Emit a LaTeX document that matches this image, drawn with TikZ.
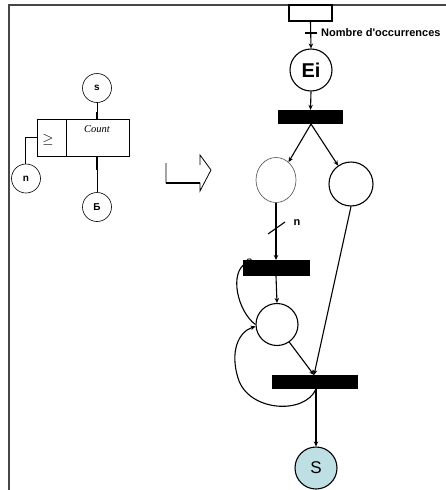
\documentclass[tikz,border=0pt]{standalone}
\usepackage{fontspec}
\setmainfont{Liberation Serif}
\newfontfamily\lsans{Liberation Sans}
\usetikzlibrary{arrows.meta,calc,shapes.geometric}
\definecolor{sblue}{RGB}{190,224,228}
\definecolor{framegray}{RGB}{70,70,70}
\tikzset{
  pn/.style={line width=1.1pt},
  arr/.style={pn,-{Stealth[length=5pt,width=4.5pt]}},
  place/.style={draw,circle,pn,minimum size=42pt,inner sep=0pt},
  bar/.style={fill=black,draw=none,inner sep=0pt},
  smallplace/.style={draw,circle,line width=0.6pt,minimum size=29pt,inner sep=0pt,font=\lsans\bfseries\fontsize{10}{11}\selectfont},
  thin/.style={line width=0.7pt}
}
\begin{document}
\begin{tikzpicture}[x=1pt,y=1pt]
\useasboundingbox (0,0) rectangle (445,-490);
% frame
\draw[line width=2pt,framegray] (9,-491) -- (9,-5) -- (446,-5);

% ---------- left block ----------
\node[smallplace] (s) at (97,-88) {s};
\node[draw,thin,minimum width=92pt,minimum height=37pt,inner sep=0pt] (box) at (83,-137.5) {};
\draw[thin] (66,-119) -- (66,-156);
\node[font=\fontsize{14}{15}\selectfont] (ge) at (48,-140) {$\geq$};
\node[font=\itshape\fontsize{10.5}{11}\selectfont] (cnt) at (97,-129) {Count};
\node[smallplace] (n) at (26,-178.5) {n};
\node[smallplace] (b) at (97,-207) {Б};
\coordinate (sbot) at (97,-112);
\coordinate (bmid) at (97,-170);
\draw[thin] (s.south) -- (sbot);
\draw[line width=2pt] (sbot) -- (box.north -| sbot);
\draw[line width=2pt] (box.south -| bmid) -- (bmid);
\draw[thin] (bmid) -- (b.north);
\coordinate (nk) at (25,-137);
\draw[thin] (box.west |- nk) -- (nk) -- (n.north -| nk);

% hollow bent arrow
\coordinate (a1) at (166,-163);
\coordinate (a2) at (166,-183);
\coordinate (a3) at (200,-183);
\coordinate (a4) at (200,-191);
\coordinate (a5) at (211,-170);
\coordinate (a6) at (200,-155);
\coordinate (a7) at (200,-165);
\draw[line width=0.8pt] (a1) -- (a2) -- (a3) -- (a4) -- (a5) -- (a6) -- (a7);
\draw[line width=1.6pt] (a2) -- (a3);

% ---------- Petri net ----------
\node[draw,pn,minimum width=43pt,minimum height=16pt,inner sep=0pt] (p0) at (310.5,-13) {};
\node[place,font=\lsans\bfseries\fontsize{20}{21}\selectfont] (ei) at (311,-70) {Ei};
\node[bar,minimum width=65pt,minimum height=14pt] (t1) at (310.5,-117) {};
\node[draw,ellipse,line width=0.6pt,minimum width=40pt,minimum height=45pt,inner sep=0pt,gray!60!black] (p1) at (276,-180) {};
\node[place,minimum size=44pt] (p2) at (351,-184) {};
\node[bar,minimum width=67pt,minimum height=16pt] (t2) at (276.5,-268) {};
\node[place] (p3) at (277,-324.5) {};
\node[bar,minimum width=86pt,minimum height=14pt] (t3) at (315,-382) {};
\node[place,fill=sblue,font=\lsans\fontsize{17}{18}\selectfont] (sout) at (316,-468) {S};

% arcs
\draw[arr] (p0.south) -- (ei.north);
\coordinate (tk) at (311,-33);
\draw[pn] ($(tk)+(-6,0)$) -- ($(tk)+(6,0)$);
\node[anchor=west,inner sep=0pt,font=\lsans\bfseries\fontsize{11}{12}\selectfont] (lab) at (321,-33) {Nombre d'occurrences};

\draw[arr] (ei.south) -- (t1.north);
\coordinate (t1b) at (311,-124);
\draw[arr] (t1b) -- (p1.55);
\draw[arr] (t1b) -- (p2.125);

\coordinate (t2top) at (276,-260);
\draw[arr] (p1.south) -- (t2top);
\coordinate (sl) at (276.5,-228);
\draw[pn] ($(sl)+(-8.5,-6)$) -- ($(sl)+(8.5,6)$);
\node[font=\lsans\bfseries\fontsize{11}{12}\selectfont] (nl) at (297,-223) {n};

\coordinate (t2b) at (276,-276);
\draw[arr] (t2b) -- (p3.north);

\coordinate (t3top) at (314,-375);
\draw[arr] (p3.-55) -- (t3top);
\draw[arr] (p2.south) -- (t3top);
\coordinate (t3b) at (316,-389);
\draw[arr] (t3b) -- (sout.north);

% inhibitor arc from p3 to t2
\coordinate (inh) at (252,-260);
\draw[pn,-{Circle[open,length=6pt,width=6pt,line width=0.8pt]}] (p3.180) .. controls (238,-312) and (228,-272) .. (inh);
% loop from t3 back to p3
\draw[arr] (t3b) .. controls (305,-415) and (248,-412) .. (238,-378)
   .. controls (230,-352) and (238,-332) .. (p3.185);
\end{tikzpicture}
\end{document}
